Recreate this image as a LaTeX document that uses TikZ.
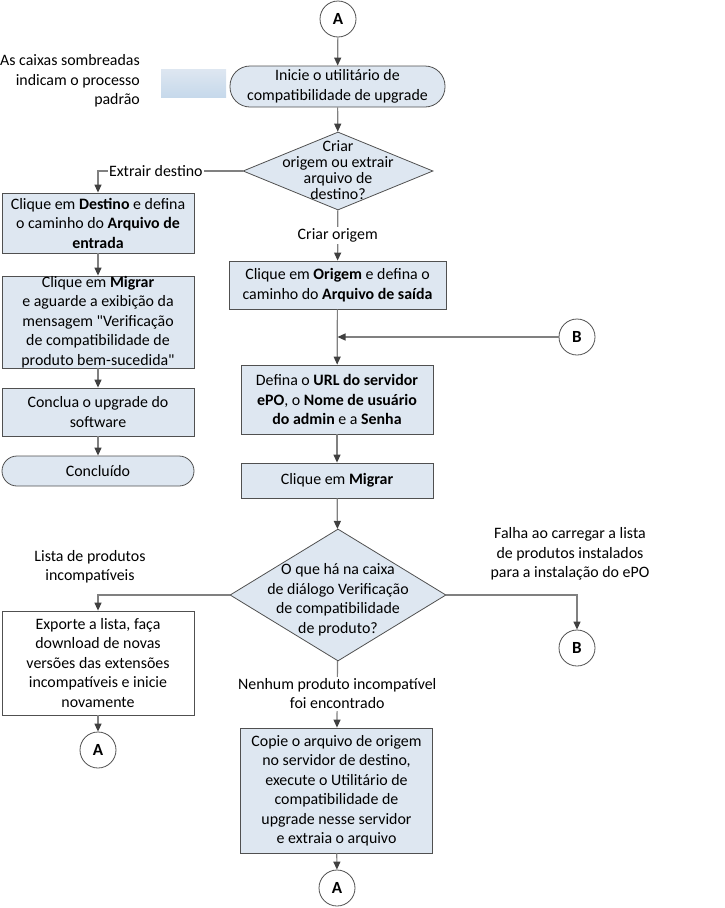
\documentclass[tikz,border=0pt]{standalone}
\usepackage{fontspec}
\setmainfont{Carlito}
\newfontfamily\qfont{Carlito}
\usepackage{tikz}
\usetikzlibrary{shapes.geometric,arrows.meta}
\definecolor{boxfill}{RGB}{222,231,241}
\definecolor{boxline}{RGB}{80,80,80}
\definecolor{linegray}{RGB}{128,128,128}
\definecolor{tipgray}{RGB}{64,64,64}
\newcommand{\qt}{{\qfont"}}
\tikzset{
  txt/.style={font=\fontsize{15.9}{19.5}\selectfont, align=center, inner sep=0pt},
  procbox/.style={txt, rectangle, draw=boxline, line width=0.8pt, fill=boxfill},
  plainbox/.style={procbox, fill=white},
  termbox/.style={procbox, rounded corners=15pt},
  decbox/.style={diamond, draw=boxline, line width=0.8pt, fill=boxfill, inner sep=0pt},
  conn/.style={circle, draw=boxline, line width=0.8pt, fill=white, minimum size=36pt, inner sep=0pt, font=\fontsize{17}{19}\selectfont\bfseries},
  flow/.style={draw=linegray, line width=1.2pt, -{Triangle[length=8pt,width=7pt,color=tipgray]}},
  lbl/.style={txt, fill=white, inner sep=1.5pt}
}
\begin{document}
\begin{tikzpicture}[x=1pt,y=-1pt]
        \useasboundingbox (0,0) rectangle (724,908);
        \shade[top color=boxfill, bottom color={rgb,255:red,198;green,217;blue,235}] (161,69) rectangle (226,97);
        \node[txt, anchor=east, align=right] (legenda) at (140,81) {As caixas sombreadas\\indicam o processo\\padrão};
        \node[conn] (a1) at (338,19) {A};
        \node[termbox, rounded corners=20pt, minimum width=215, minimum height=41] (inicie) at (337.5,86.5) {Inicie o utilitário de\\compatibilidade de upgrade};
        \node[decbox, minimum width=190, minimum height=78] (criar) at (338,171) {};
        \node[txt, font=\fontsize{15.9}{16}\selectfont] (criartxt) at (338,170.5) {Criar\\origem ou extrair\\arquivo de\\destino?};
        \node[procbox, minimum width=192, minimum height=60] (destino) at (98,223) {Clique em \textbf{Destino} e defina\\o caminho do \textbf{Arquivo de}\\\textbf{entrada}};
        \node[procbox, minimum width=192, minimum height=92] (migrar1) at (98,322) {Clique em \textbf{Migrar}\\e aguarde a exibição da\\mensagem \qt Verificação\\de compatibilidade de\\produto bem-sucedida\qt};
        \node[procbox, minimum width=192, minimum height=48] (conclua) at (98,412) {Conclua o upgrade do\\software};
        \node[termbox, minimum width=192, minimum height=30] (concluido) at (98,471) {Concluído};
        \node[procbox, minimum width=217, minimum height=48] (origem) at (337.5,285) {Clique em \textbf{Origem} e defina o\\caminho do \textbf{Arquivo de saída}};
        \coordinate (juncao) at (337.5,337);
        \node[conn] (b1) at (577,337) {B};
        \node[procbox, minimum width=192, minimum height=69] (defina) at (337,399.5) {Defina o \textbf{URL do servidor}\\\textbf{ePO}, o \textbf{Nome de usuário}\\\textbf{do admin} e a \textbf{Senha}};
        \node[procbox, minimum width=192, minimum height=35] (migrar2) at (337,480.5) {Clique em \textbf{Migrar}};
        \node[decbox, minimum width=216, minimum height=132] (verif) at (338,595) {};
        \node[txt] (veriftxt) at (338,600) {O que há na caixa\\de diálogo Verificação\\de compatibilidade\\de produto?};
        \node[txt] (listalbl) at (90,567) {Lista de produtos\\incompatíveis};
        \node[txt] (falhalbl) at (570,554) {Falha ao carregar a lista\\de produtos instalados\\para a instalação do ePO};
        \node[plainbox, minimum width=192, minimum height=104] (exporte) at (98,663) {Exporte a lista, faça\\download de novas\\versões das extensões\\incompatíveis e inicie\\novamente};
        \node[conn] (a2) at (98,750) {A};
        \node[conn] (b2) at (577,648) {B};
        \node[procbox, minimum width=192, minimum height=125] (copie) at (336.5,790.5) {Copie o arquivo de origem\\no servidor de destino,\\execute o Utilitário de\\compatibilidade de\\upgrade nesse servidor\\e extraia o arquivo};
        \node[conn] (a3) at (337,888) {A};
        \draw[flow] (a1) -- (inicie);
        \draw[flow] (inicie) -- (criar);
        \draw[flow] (criar.west) -| node[lbl, pos=0.3] (extrairlbl) {Extrair destino} (destino);
        \draw[flow] (destino) -- (migrar1);
        \draw[flow] (migrar1) -- (conclua);
        \draw[flow] (conclua) -- (concluido);
        \draw[flow] (criar) -- node[lbl] (criarlbl) {Criar origem} (origem);
        \draw[flow] (origem) -- (defina);
        \draw[flow] (b1) -- (juncao);
        \draw[flow] (defina) -- (migrar2);
        \draw[flow] (migrar2) -- (verif);
        \draw[flow] (verif.west) -| (exporte);
        \draw[flow] (verif.east) -| (b2);
        \draw[flow] (verif) -- node[lbl, pos=0.49] (nenhumlbl) {Nenhum produto incompatível\\foi encontrado} (copie);
        \draw[flow] (exporte) -- (a2);
        \draw[flow] (copie) -- (a3);
    \end{tikzpicture}
\end{document}
